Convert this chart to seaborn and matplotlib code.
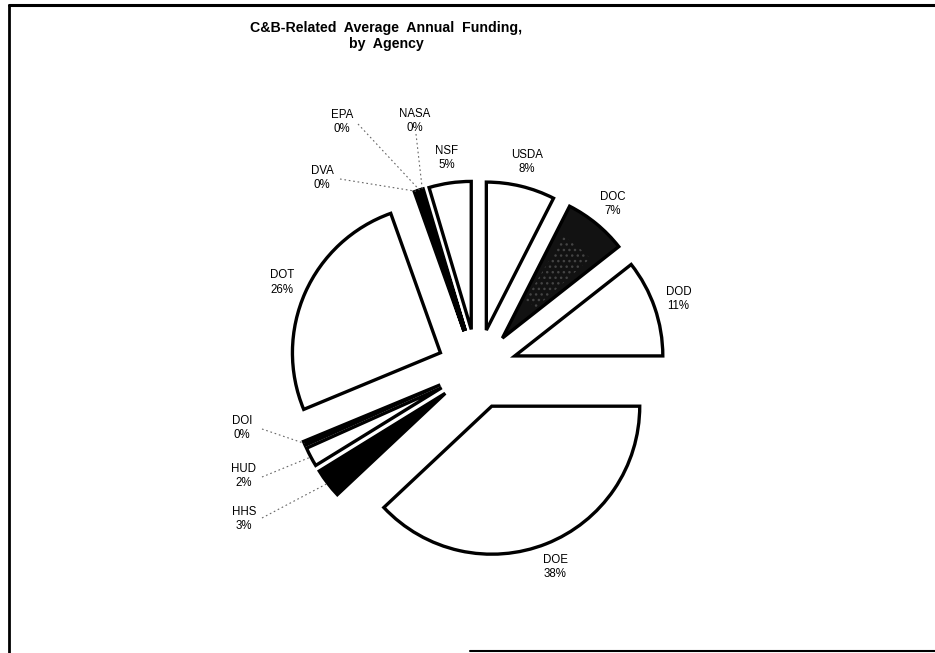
import matplotlib
matplotlib.use("Agg")
import matplotlib.pyplot as plt
import seaborn as sns
import numpy as np
from matplotlib.lines import Line2D
from matplotlib.patches import Wedge

# ---- data ----
agencies = ["USDA", "DOC", "DOD", "DOE", "HHS", "HUD", "DOI", "DOT", "DVA", "EPA", "NASA", "NSF"]
shares = [7.5, 6.9, 10.6, 38.0, 3.2, 2.1, 0.45, 25.8, 0.35, 0.3, 0.2, 4.6]
fills = ["white", "#121212", "white", "white", "black", "white", "black", "white",
         "black", "black", "black", "white"]
title = "C&B-Related  Average  Annual  Funding,\nby  Agency"

# labels placed off to the side with leader lines (pixel positions, y down)
side_labels = {
    "DVA": ((322, 178), (340, 179)),
    "EPA": ((342, 122), (358, 124)),
    "NASA": ((415, 121), (416, 134)),
    "DOI": ((242, 428), (262, 429)),
    "HUD": ((244, 476), (262, 477)),
    "HHS": ((244, 519), (262, 518)),
}

sns.set_theme(style="white")
plt.rcParams['font.family'] = ['Liberation Sans', 'DejaVu Sans']
plt.rcParams['text.color'] = 'black'

W, H = 935, 653
fig = plt.figure(figsize=(W / 100, H / 100), dpi=100)
fig.patch.set_facecolor("white")
ax = fig.add_axes([0, 0, 1, 1])

cx, cy = 477, H - 369
R = 148
explode = [40] * len(shares)

pct_labels = [f"{a}\n{int(round(v))}%" for a, v in zip(agencies, shares)]
pie_labels = ["" if a in side_labels else l for a, l in zip(agencies, pct_labels)]

wedges, texts = ax.pie(
    shares, center=(cx, cy), radius=R, explode=explode, startangle=90,
    counterclock=False, colors=fills, labels=pie_labels, labeldistance=1.17,
    wedgeprops=dict(edgecolor="black", linewidth=2.4, joinstyle="miter"),
    textprops=dict(fontsize=8.3, color="black"),
)
for t in texts:
    t.set_horizontalalignment("center")
    t.set_verticalalignment("center")
    t.set_multialignment("center")
    t.set_linespacing(1.25)

# faint stipple texture on the dark DOC wedge
w = wedges[agencies.index("DOC")]
ax.add_patch(Wedge(w.center, w.r * 0.8, w.theta1 + 4, w.theta2 - 4, width=w.r * 0.5,
                   facecolor="none", edgecolor="#444444", hatch="...", lw=0))

ax.set_xlim(0, W)
ax.set_ylim(0, H)
ax.set_aspect("equal")
ax.axis("off")

# side labels with dotted leader lines to the outer arc of each wedge
for a, w, l in zip(agencies, wedges, pct_labels):
    if a not in side_labels:
        continue
    (lx, ly), (sx, sy) = side_labels[a]
    ax.text(lx, H - ly, l, ha="center", va="center", fontsize=8.3, color="black",
            multialignment="center", linespacing=1.25)
    ang = np.deg2rad(0.5 * (w.theta1 + w.theta2))
    ex = w.center[0] + w.r * np.cos(ang)
    ey = w.center[1] + w.r * np.sin(ang)
    ax.plot([sx, ex], [H - sy, ey], ls=(0, (1.5, 2.5)), color="#666666", lw=0.8)

fig.text(386 / W, 1 - 36 / H, title, ha="center", va="center", fontsize=10.2,
         fontweight="bold", linespacing=1.2, color="black")

# frame
def px(x, y):
    return x / W, 1 - y / H
for (x0, y0), (x1, y1), lw in [((9, 5), (935, 5), 2.2), ((9, 5), (9, 653), 2.0),
                               ((470, 651), (935, 651), 1.5)]:
    a0, b0 = px(x0, y0)
    a1, b1 = px(x1, y1)
    fig.add_artist(Line2D([a0, a1], [b0, b1], transform=fig.transFigure,
                          color="black", lw=lw))

fig.savefig("out.png", dpi=100, facecolor="white")
